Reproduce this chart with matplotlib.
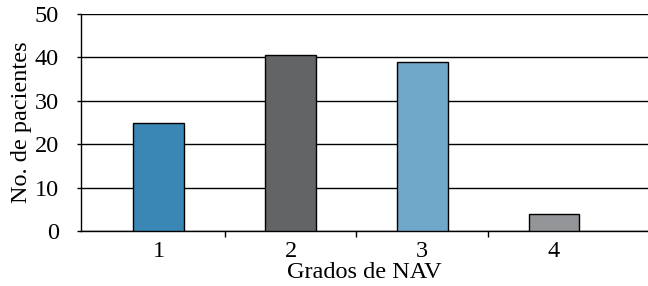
import matplotlib
matplotlib.use('Agg')
import matplotlib.pyplot as plt

# Data
categories = ['1', '2', '3', '4']
patients = [25, 40.6, 39, 4]
bar_colors = ['#3a87b5', '#636466', '#6fa8c9', '#939598']
y_ticks = [0, 10, 20, 30, 40, 50]

plt.rcParams['font.family'] = 'Liberation Serif'
plt.rcParams['font.size'] = 17.5

fig = plt.figure(figsize=(6.48, 2.86), dpi=100)
ax = fig.add_axes([81 / 648, 1 - 231 / 286, (648 - 81) / 648, (231 - 14) / 286])

x = list(range(1, len(categories) + 1))
ax.bar(x, patients, width=0.387, color=bar_colors, edgecolor='black',
       linewidth=1.0, zorder=3)

ax.set_ylim(0, 50)
ax.set_yticks(y_ticks)
ax.set_xlim(0.408, 4.714)
ax.set_xticks(x)
ax.set_xticklabels(categories)
ax.set_xticks([1.5, 2.5, 3.5], minor=True)

ax.grid(axis='y', color='black', linewidth=1.0, zorder=0)
ax.set_axisbelow(True)
for side in ['top', 'right']:
    ax.spines[side].set_visible(False)
ax.spines['left'].set_linewidth(1.0)
ax.spines['bottom'].set_linewidth(1.0)

ax.tick_params(axis='x', which='major', length=0, pad=7)
ax.tick_params(axis='x', which='minor', length=4, direction='out', width=1)
ax.tick_params(axis='y', length=3, direction='out', width=1, pad=13)

ax.set_xlabel('Grados de NAV', va='baseline')
ax.xaxis.set_label_coords(0.5, -0.215)
ax.set_ylabel('No. de pacientes', labelpad=2)

fig.savefig('out.png', dpi=100)
